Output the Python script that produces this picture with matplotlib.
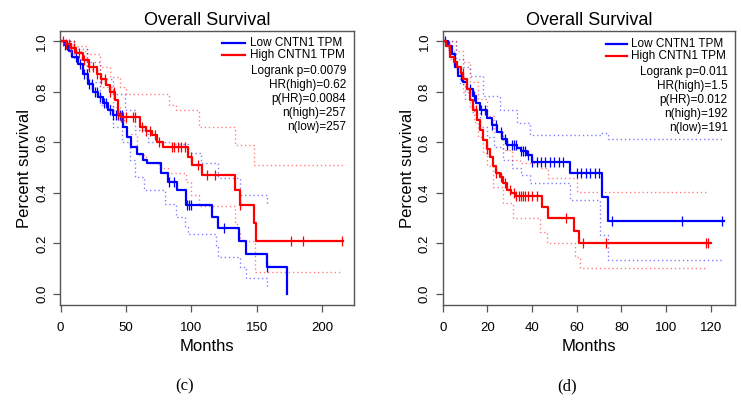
import numpy as np
import matplotlib
matplotlib.use("Agg")
import matplotlib.pyplot as plt

plt.rcParams['font.family'] = ['Liberation Sans', 'DejaVu Sans']

W, H = 741, 401

# ---- panel (c) ----
c_low_t = [0, 3, 6, 9, 13, 17, 21, 25, 28.5, 32, 36, 40, 48, 51, 54, 58, 63, 65.7, 77, 82, 89, 96, 115.5, 120.5, 136, 141.5, 157.5, 173]
c_low_s = [1.0, 0.985, 0.96, 0.94, 0.912, 0.87, 0.833, 0.80, 0.78, 0.755, 0.727, 0.707, 0.66, 0.62, 0.58, 0.556, 0.53, 0.517, 0.477, 0.444, 0.411, 0.352, 0.306, 0.26, 0.209, 0.158, 0.105, 0.0]
c_high_t = [0, 4, 8, 12, 17, 22, 27.5, 31, 35, 38, 41.5, 44, 46, 61, 65, 69.6, 74, 78.4, 97.6, 100.2, 107.8, 133.3, 137, 148, 149.3, 216]
c_high_s = [1.0, 0.99, 0.975, 0.955, 0.925, 0.9, 0.872, 0.85, 0.826, 0.8, 0.767, 0.714, 0.70, 0.66, 0.645, 0.628, 0.6, 0.582, 0.543, 0.51, 0.47, 0.411, 0.352, 0.28, 0.211, 0.211]
c_low_up_t = [0, 10, 20, 30, 40, 49, 57, 67, 85, 97, 107, 120, 137, 157.5]
c_low_up_s = [1.0, 0.97, 0.92, 0.85, 0.79, 0.727, 0.65, 0.6, 0.595, 0.56, 0.52, 0.458, 0.39, 0.352]
c_low_lo_t = [0, 10, 20, 30, 40, 47, 53, 57, 64, 79.5, 88, 95, 97, 119, 120.5, 137, 142, 157.5]
c_low_lo_s = [1.0, 0.93, 0.84, 0.75, 0.66, 0.6, 0.53, 0.464, 0.41, 0.358, 0.306, 0.266, 0.237, 0.187, 0.147, 0.105, 0.062, 0.024]
c_high_up_t = [0, 10, 20, 30, 38, 45, 50, 83, 88, 100, 106, 133, 148, 216]
c_high_up_s = [1.0, 0.98, 0.95, 0.9, 0.86, 0.82, 0.79, 0.75, 0.727, 0.727, 0.66, 0.59, 0.51, 0.51]
c_high_lo_t = [0, 10, 20, 30, 40, 45, 50, 58, 65, 75, 82, 96, 100, 106, 133, 135, 137, 148.5, 214]
c_high_lo_s = [1.0, 0.96, 0.89, 0.82, 0.74, 0.69, 0.635, 0.55, 0.52, 0.5, 0.477, 0.444, 0.39, 0.35, 0.28, 0.25, 0.211, 0.088, 0.088]
c_low_cens = [3, 5, 8, 12, 15, 18, 20, 22, 24, 26, 28, 30, 33, 35, 38, 40, 42, 44, 45, 47, 83, 87, 96.5, 98, 100, 125, 158]
c_high_cens = [2, 4, 6, 8, 10, 14, 18, 22, 25, 28, 31, 34, 38, 41, 44, 46, 48, 50, 55, 57, 62, 65, 68, 72, 75, 85, 87, 90, 92, 95, 100, 105, 112, 118, 137, 176, 185, 215]
c_stats = ["Logrank p=0.0079", "HR(high)=0.62", "p(HR)=0.0084", "n(high)=257", "n(low)=257"]

# ---- panel (d) ----
d_low_t = [0, 2.5, 4, 5.5, 7, 9.2, 10.7, 13.7, 15, 16.7, 19.7, 22, 24.2, 26.5, 28.7, 33.1, 35, 37.6, 39.9, 57, 71.2, 74.2, 126]
d_low_s = [1.0, 0.98, 0.95, 0.9, 0.862, 0.84, 0.81, 0.782, 0.755, 0.729, 0.696, 0.67, 0.643, 0.615, 0.59, 0.578, 0.565, 0.551, 0.522, 0.48, 0.383, 0.287, 0.287]
d_high_t = [0, 1.5, 3.3, 5, 6.3, 8, 9.2, 10.7, 12.2, 13.5, 15.2, 16.7, 18.2, 19.7, 21.2, 22.7, 24, 25.7, 27, 28.7, 30.5, 32.4, 44.3, 47.3, 58.8, 61.2, 120]
d_high_s = [1.0, 0.98, 0.94, 0.92, 0.9, 0.875, 0.85, 0.81, 0.769, 0.73, 0.69, 0.65, 0.61, 0.575, 0.544, 0.505, 0.48, 0.465, 0.44, 0.412, 0.4, 0.386, 0.346, 0.302, 0.251, 0.201, 0.201]
d_low_up_t = [0, 3, 6, 9, 12.2, 18.2, 25.7, 33.1, 39.1, 71, 74, 125.5]
d_low_up_s = [1.0, 1.0, 0.93, 0.9, 0.862, 0.782, 0.729, 0.677, 0.63, 0.636, 0.613, 0.613]
d_low_lo_t = [0, 3, 5, 7.7, 10, 13, 16.7, 20, 23, 27.1, 31, 35, 39.1, 57, 70.4, 74.2, 125.7]
d_low_lo_s = [1.0, 0.96, 0.9, 0.83, 0.77, 0.72, 0.663, 0.62, 0.58, 0.531, 0.5, 0.47, 0.441, 0.373, 0.234, 0.135, 0.135]
d_high_up_t = [0, 3, 6, 9, 12.2, 16, 19.7, 23, 27.1, 31, 34.6, 44, 47.3, 60, 119]
d_high_up_s = [1.0, 1.0, 0.96, 0.92, 0.84, 0.77, 0.703, 0.64, 0.571, 0.53, 0.52, 0.498, 0.458, 0.405, 0.405]
d_high_lo_t = [0, 3, 6.3, 9, 12.2, 14, 16, 18, 19.7, 22.7, 27.1, 31.6, 43.6, 46.6, 59.2, 61.5, 118.2]
d_high_lo_s = [1.0, 0.93, 0.88, 0.8, 0.742, 0.68, 0.62, 0.56, 0.505, 0.425, 0.36, 0.30, 0.247, 0.201, 0.148, 0.102, 0.102]
d_low_cens = [1, 3, 8, 12, 14, 17, 19, 22, 24, 26, 28, 29, 31, 32, 33, 35, 36, 37, 38, 40, 42, 44, 46, 48, 50, 52, 54, 60, 62, 64, 66, 68, 70, 76, 107, 125]
d_high_cens = [3, 9, 15, 20, 24, 26, 28, 30, 32, 33, 34, 35, 36, 37, 38, 40, 42, 55, 63, 73, 118, 119]
d_stats = ["Logrank p=0.011", "HR(high)=1.5", "p(HR)=0.012", "n(high)=192", "n(low)=191"]

labels = ["Low CNTN1 TPM", "High CNTN1 TPM"]
BLUE = "#0000ff"
RED = "#ff0000"


def fx(x):
    return x / W


def fy(y):
    return 1 - y / H


def surv_at(t_k, s_k, t):
    i = np.searchsorted(t_k, t, side="right") - 1
    return np.asarray(s_k)[i]


def draw_panel(box, xlim, xticks, curves, stats, leg, letter):
    left, top, right, bottom = box
    ax = fig.add_axes([fx(left), fy(bottom), fx(right - left), (bottom - top) / H])
    for t_k, s_k, up_t, up_s, lo_t, lo_s, cens, col in curves:
        ax.step(up_t, up_s, where="post", color=col, alpha=0.5, lw=1.0, ls=(0, (1, 2)))
        ax.step(lo_t, lo_s, where="post", color=col, alpha=0.5, lw=1.0, ls=(0, (1, 2)))
    for t_k, s_k, up_t, up_s, lo_t, lo_s, cens, col in curves:
        ax.step(t_k, s_k, where="post", color=col, lw=1.6)
        ax.plot(cens, surv_at(t_k, s_k, cens), ls="none", marker="|", ms=6.5,
                mew=0.9, color=col)
    ax.set_xlim(*xlim)
    ax.set_ylim(-0.0435, 1.041)
    ax.set_xticks(xticks)
    ax.set_yticks([0, 0.2, 0.4, 0.6, 0.8, 1.0])
    ax.set_yticklabels(["0.0", "0.2", "0.4", "0.6", "0.8", "1.0"], rotation=90, va="center")
    ax.tick_params(labelsize=9.5, length=5, width=0.9, color="#555555")
    ax.tick_params(axis="x", pad=7)
    ax.tick_params(axis="y", pad=3.5)
    for sp in ax.spines.values():
        sp.set_color("#555555")
        sp.set_linewidth(1.0)
    ax.set_xlabel("Months", fontsize=12, labelpad=4)
    ax.set_ylabel("Percent survival", fontsize=12, labelpad=3)
    ax.set_title("Overall Survival", fontsize=13, pad=4)

    lx0, lx1, tx, rx, ys = leg
    for lab, col, yy in zip(labels, [BLUE, RED], ys[:2]):
        fig.add_artist(plt.Line2D([fx(lx0), fx(lx1)], [fy(yy), fy(yy)], color=col, lw=1.6))
        fig.text(fx(tx), fy(yy), lab, fontsize=8.5, ha="left", va="center")
    for s, yy in zip(stats, ys[2:]):
        fig.text(fx(rx), fy(yy), s, fontsize=8.5, ha="right", va="center")
    fig.text(fx(letter[1]), fy(386), letter[0], fontsize=12,
             family=["Liberation Serif", "DejaVu Serif"], ha="center", va="center")


fig = plt.figure(figsize=(W / 100, H / 100), dpi=100)

draw_panel((60, 31, 354, 305), (-0.5, 224.2), [0, 50, 100, 150, 200],
           [(c_low_t, c_low_s, c_low_up_t, c_low_up_s, c_low_lo_t, c_low_lo_s, c_low_cens, BLUE),
            (c_high_t, c_high_s, c_high_up_t, c_high_up_s, c_high_lo_t, c_high_lo_s, c_high_cens, RED)],
           c_stats, (221.7, 245, 250, 346, [43, 55, 70.7, 85, 99, 113.3, 127.3]), ("(c)", 185))

draw_panel((442.5, 31, 735, 305), (-0.1, 130.9), [0, 20, 40, 60, 80, 100, 120],
           [(d_low_t, d_low_s, d_low_up_t, d_low_up_s, d_low_lo_t, d_low_lo_s, d_low_cens, BLUE),
            (d_high_t, d_high_s, d_high_up_t, d_high_up_s, d_high_lo_t, d_high_lo_s, d_high_cens, RED)],
           d_stats, (605.7, 626.7, 630.7, 727.7, [44, 56, 71.7, 85.7, 100, 114.3, 128.3]), ("(d)", 567))

fig.savefig("out.png", dpi=100)
